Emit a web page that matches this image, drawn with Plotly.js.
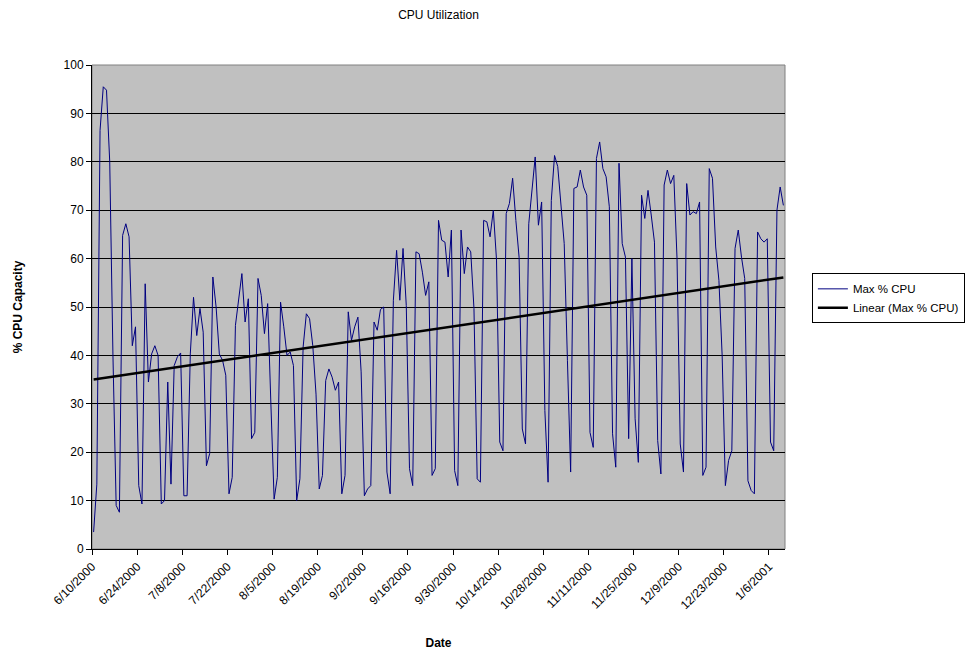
<!DOCTYPE html>
<html>
<head>
<meta charset="utf-8">
<script src="https://cdn.plot.ly/plotly-3.0.1.min.js"></script>
<style>html,body{margin:0;padding:0;background:#fff;}#chart{width:977px;height:650px;}</style>
</head>
<body>
<div id="chart"></div>
<script>
// Daily data starting 6/10/2000
var startDate = '2000-06-10';
var seriesName = 'Max % CPU';
var trendName = 'Linear (Max % CPU)';
var maxCpu = [
3.5, 13.4, 86.5, 95.5, 94.8, 80, 40, 9.0, 7.6, 64.8,
67.2, 64.5, 42, 45.9, 13.1, 9.3, 54.8, 34.5, 40.3, 42,
40, 9.3, 10, 34.5, 13.4, 37.9, 39.7, 40.5, 11, 11,
40.3, 52, 44.1, 49.7, 44.8, 17.2, 19.7, 56.2, 50, 40.3,
39, 35.9, 11.4, 14.8, 46.2, 51.4, 56.9, 46.9, 51.7, 22.8,
24.1, 55.9, 52.4, 44.5, 50.7, 30, 10.3, 14.8, 51, 45.9,
40, 40.7, 37.9, 10, 14.5, 41.7, 48.6, 47.6, 42, 32,
12.4, 15.2, 34.8, 37.2, 35.5, 32.8, 34.5, 11.4, 15.2, 49,
43.1, 45.9, 47.9, 36.6, 11, 12.4, 13.1, 46.9, 45.2, 49.5,
50, 15.9, 11.4, 51.4, 61.7, 51.4, 62.1, 50.3, 16.6, 13.1,
61.4, 61, 57.2, 52.4, 55.2, 15.2, 16.6, 67.9, 63.8, 63.4,
56.2, 65.9, 16.2, 13.1, 65.9, 56.9, 62.4, 61.4, 49.7, 14.5,
13.8, 67.9, 67.6, 64.5, 70, 59.7, 22.1, 20.3, 69.3, 71.4,
76.6, 67.9, 60.3, 24.8, 21.7, 67.2, 73.4, 81, 66.9, 71.7,
28.6, 13.8, 72, 81.3, 79, 70.7, 63.1, 39, 15.9, 74.5,
74.8, 78.3, 74.8, 73.1, 24.1, 21, 80.7, 84.1, 78.6, 76.9,
70.7, 23.8, 16.9, 79.7, 63.1, 60.3, 22.8, 60, 26.9, 17.9,
73.1, 68.3, 74.1, 69, 63.4, 22.4, 15.5, 75.2, 78.3, 75.5,
77.2, 60, 21.7, 15.9, 75.5, 69, 69.7, 69.3, 71.7, 15.2,
16.9, 78.6, 76.6, 62.4, 55.5, 40, 13.1, 18.3, 20.3, 62.1,
65.9, 60.3, 55.9, 14.1, 12.1, 11.4, 65.5, 64.1, 63.4, 64.1,
22.1, 20.3, 70, 74.8, 71
];
var yTicks = [0,10,20,30,40,50,60,70,80,90,100];

var DAY = 86400000;
var t0 = Date.UTC(2000,5,10);
function iso(ms){ return new Date(ms).toISOString().slice(0,19).replace('T',' '); }
var xs = maxCpu.map(function(v,i){ return iso(t0 + i*DAY + DAY/2); });

// linear regression
var n = maxCpu.length, sx=0, sy=0, sxx=0, sxy=0;
for (var i=0;i<n;i++){ sx+=i; sy+=maxCpu[i]; sxx+=i*i; sxy+=i*maxCpu[i]; }
var slope = (n*sxy - sx*sy)/(n*sxx - sx*sx);
var icpt = (sy - slope*sx)/n;
var trendX = [xs[0], xs[n-1]];
var trendY = [icpt, icpt + slope*(n-1)];

var font = 'Liberation Sans, Arial, sans-serif';
var traces = [
  {x: xs, y: maxCpu, type:'scatter', mode:'lines', name: seriesName,
   line:{color:'#000080', width:1}},
  {x: trendX, y: trendY, type:'scatter', mode:'lines', name: trendName,
   line:{color:'#000000', width:2.5}}
];
var layout = {
  width:977, height:650,
  margin:{l:92, r:192, t:65, b:101},
  paper_bgcolor:'#ffffff', plot_bgcolor:'#c0c0c0',
  font:{family:font, size:12, color:'#000'},
  title:{text:'CPU Utilization', x:0.5, xref:'paper', y:0.977, yanchor:'middle', font:{size:12, family:font}},
  showlegend:true,
  legend:{xref:'container', yref:'container', x:0.831, xanchor:'left', y:0.541, yanchor:'middle', bgcolor:'#ffffff',
          bordercolor:'#000', borderwidth:1, font:{size:11.5, family:font},
          tracegroupgap:0, itemwidth:30},
  xaxis:{type:'date', range:[iso(t0), iso(t0 + n*DAY)], tick0: iso(t0), dtick: 14*DAY,
         tickformat:'%-m/%-d/%Y', tickangle:-45, ticks:'outside', ticklen:5, tickcolor:'#000',
         showgrid:false, showline:true, linecolor:'#000', linewidth:1, zeroline:false,
         tickfont:{size:12, family:font},
         title:{text:'<b>Date</b>', font:{size:12, family:font}, standoff:27}},
  yaxis:{range:[0,100], tickvals:yTicks, ticks:'outside', ticklen:5, tickcolor:'#000',
         showgrid:true, gridcolor:'#000', gridwidth:1, showline:true, linecolor:'#000', linewidth:1,
         zeroline:false, tickfont:{size:12, family:font},
         title:{text:'<b>% CPU Capacity</b>', font:{size:12, family:font}, standoff:38}},
  shapes:[{type:'rect', xref:'paper', yref:'paper', x0:0, x1:1, y0:0, y1:1,
           line:{color:'#808080', width:1}, fillcolor:'rgba(0,0,0,0)', layer:'below'}]
};
Plotly.newPlot('chart', traces, layout, {displayModeBar:false, staticPlot:true});
</script>
</body>
</html>
